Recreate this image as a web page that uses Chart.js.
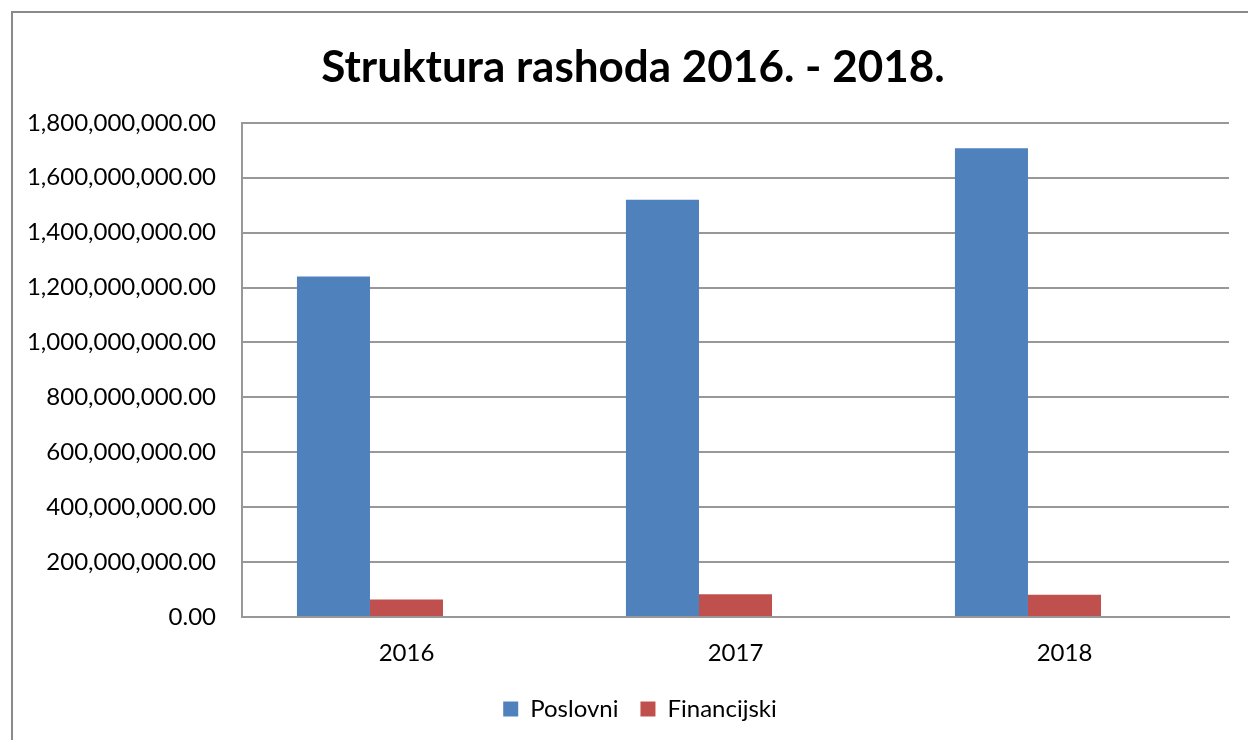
<!DOCTYPE html>
<html>
<head>
<meta charset="utf-8">
<script src="https://cdn.jsdelivr.net/npm/chart.js@4/dist/chart.umd.min.js"></script>
<style>
  body { margin: 0; background: #fff; }
  canvas { display: block; }
</style>
</head>
<body>
<canvas id="grafik" width="1248" height="740"></canvas>
<script>
// podaci očitani sa grafikona
const godine = ["2016", "2017", "2018"];
const poslovni = [1240000000, 1520000000, 1707000000];
const financijski = [64000000, 83000000, 81000000];
// Excel grafikon ima i treću (praznu) seriju, zato su stupci pomaknuti ulijevo
const prazno = [null, null, null];

const yMin = 0;
const yMax = 1800000000;
const yKorak = 200000000;

const font = "Lato, 'Open Sans', sans-serif";
const sivo = "#989898";

// okvir oko cijelog grafikona
const okvir = {
  id: "okvir",
  beforeDraw(chart) {
    const c = chart.ctx;
    c.save();
    c.fillStyle = "#fff";
    c.fillRect(0, 0, chart.width, chart.height);
    c.strokeStyle = "#8a8a8a";
    c.lineWidth = 2;
    c.strokeRect(12, 12, chart.width + 50, chart.height + 50);
    c.restore();
  },
};

// naslov i legenda su u Excelu centrirani na cijeli okvir, ne na os
const pomak = {
  id: "pomak",
  afterLayout(chart) {
    if (chart.titleBlock) chart.titleBlock.left += 37;
    if (chart.legend) chart.legend.left += 51;
  },
};

Chart.defaults.font.family = font;
Chart.defaults.color = "#000";

new Chart(document.getElementById("grafik").getContext("2d"), {
  type: "bar",
  data: {
    labels: godine,
    datasets: [
      { label: "Poslovni", data: poslovni, backgroundColor: "#4F81BD" },
      { label: "Financijski", data: financijski, backgroundColor: "#C0504D" },
      { label: "", data: prazno, backgroundColor: "transparent" },
    ],
  },
  options: {
    responsive: false,
    animation: false,
    categoryPercentage: 0.666,
    barPercentage: 1.0,
    layout: { padding: { left: 0, right: 19, top: 0, bottom: 9 } },
    plugins: {
      title: {
        display: true,
        text: "Struktura rashoda 2016. - 2018.",
        font: { size: 44, weight: "bold" },
        padding: { top: 41, bottom: 29 },
      },
      legend: {
        position: "bottom",
        labels: {
          boxWidth: 15,
          boxHeight: 15,
          padding: 22,
          font: { size: 24 },
          filter: (item) => item.text !== "",
        },
      },
      tooltip: { enabled: false },
    },
    scales: {
      x: {
        grid: { display: false, drawTicks: false },
        border: { display: true, color: sivo, width: 2 },
        ticks: { padding: 22, font: { size: 24 } },
        afterFit: (s) => { s.height = 58; },
      },
      y: {
        min: yMin,
        max: yMax,
        grid: { color: sivo, lineWidth: 2, drawTicks: false },
        border: { display: true, color: sivo, width: 2 },
        ticks: {
          stepSize: yKorak,
          padding: 26,
          font: { size: 24 },
          callback: (v) =>
            Number(v).toLocaleString("en-US", { minimumFractionDigits: 2, maximumFractionDigits: 2 }),
        },
        afterFit: (s) => { s.width = 242; },
      },
    },
  },
  plugins: [okvir, pomak],
});
</script>
</body>
</html>
